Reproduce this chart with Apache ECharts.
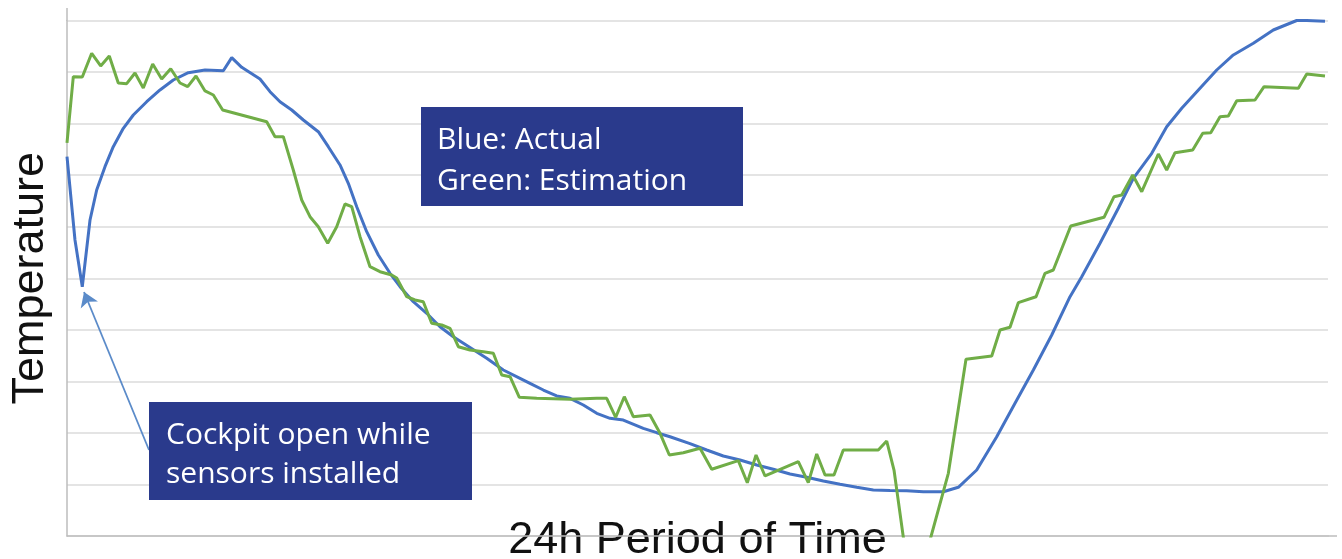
<!DOCTYPE html>
<html>
<head>
<meta charset="utf-8">
<script src="https://cdn.jsdelivr.net/npm/echarts@6/dist/echarts.min.js"></script>
<style>
html,body{margin:0;padding:0;background:#fff;}
#chart{width:1342px;height:559px;}
</style>
</head>
<body>
<div id="chart"></div>
<script>
// Time in hours (0..24), temperature in relative units (0..10, unlabeled)
const blueTime = [0,0.152,0.291,0.438,0.565,0.723,0.881,1.072,1.262,1.517,1.770,2.023,2.309,2.627,2.975,3.135,3.325,3.673,3.864,4.054,4.277,4.498,4.783,4.973,5.196,5.354,5.514,5.704,5.925,6.148,6.338,6.591,6.846,7.099,7.352,7.670,7.988,8.304,8.622,8.812,9.066,9.320,9.574,9.827,10.082,10.335,10.588,10.969,11.224,11.477,11.857,12.175,12.491,12.809,13.127,13.443,13.761,14.079,14.395,14.713,15.031,15.346,15.664,15.982,16.298,16.679,16.964,17.314,17.695,18.043,18.392,18.742,19.090,19.313,19.661,20.009,20.295,20.645,20.930,21.216,21.564,21.882,22.198,22.579,22.959,23.405,23.595,23.943];
const blueTemp = [7.358,5.742,4.836,6.130,6.712,7.164,7.552,7.909,8.167,8.425,8.652,8.846,8.988,9.040,9.026,9.279,9.092,8.865,8.619,8.425,8.264,8.070,7.843,7.552,7.197,6.842,6.388,5.903,5.451,5.096,4.836,4.545,4.320,4.060,3.866,3.657,3.447,3.220,3.059,2.962,2.832,2.716,2.671,2.541,2.380,2.283,2.250,2.089,2.004,1.926,1.791,1.668,1.552,1.474,1.377,1.294,1.203,1.139,1.067,1.003,0.945,0.892,0.883,0.879,0.857,0.859,0.945,1.280,1.926,2.574,3.220,3.899,4.642,5.030,5.678,6.357,6.939,7.424,7.940,8.297,8.685,9.040,9.331,9.558,9.816,10.0,10.0,9.985];
const greenTime = [0,0.120,0.291,0.470,0.641,0.805,0.976,1.136,1.294,1.452,1.631,1.802,1.974,2.151,2.297,2.455,2.627,2.785,2.963,3.801,3.959,4.117,4.307,4.467,4.625,4.783,4.962,5.133,5.291,5.419,5.577,5.767,5.957,6.180,6.275,6.466,6.623,6.781,6.941,7.132,7.290,7.448,7.670,7.924,8.114,8.274,8.432,8.609,8.940,9.574,10.082,10.272,10.443,10.607,10.778,11.096,11.287,11.464,11.730,12.048,12.270,12.777,12.948,13.114,13.285,13.919,14.109,14.269,14.427,14.598,14.775,15.441,15.601,15.740,16.083,16.254,16.774,17.110,17.600,17.758,17.948,18.106,18.443,18.614,18.772,19.104,19.737,19.928,20.074,20.283,20.455,20.771,20.930,21.089,21.425,21.616,21.768,21.945,22.103,22.263,22.611,22.783,23.436,23.595,23.943];
const greenTemp = [7.624,8.910,8.904,9.364,9.118,9.312,8.788,8.774,8.982,8.691,9.156,8.865,9.065,8.788,8.716,8.924,8.633,8.555,8.264,8.037,7.746,7.746,7.100,6.518,6.194,6.000,5.678,6.000,6.440,6.388,5.806,5.224,5.127,5.063,5.005,4.642,4.578,4.545,4.126,4.093,4.029,3.672,3.608,3.575,3.544,3.123,3.090,2.691,2.671,2.652,2.671,2.671,2.303,2.702,2.314,2.347,1.992,1.571,1.616,1.701,1.294,1.461,1.034,1.571,1.164,1.441,1.034,1.591,1.183,1.183,1.668,1.668,1.843,1.280,-1.242,-0.718,1.216,3.428,3.492,3.996,4.049,4.526,4.642,5.096,5.160,6.014,6.182,6.582,6.615,7.003,6.679,7.410,7.100,7.436,7.488,7.812,7.824,8.134,8.148,8.444,8.458,8.716,8.685,8.962,8.924];

const seriesNames = ['Actual', 'Estimation'];
const xTitle = '24h Period of Time';
const yTitle = 'Temperature';
const legendLines = ['Blue: Actual', 'Green: Estimation'];
const noteLines = ['Cockpit open while', 'sensors installed'];
// annotation arrow (data coordinates: hours, temperature)
const arrowFrom = [1.561, 1.668];
const arrowTo = [0.324, 4.733];

const zip = (xs, ys) => xs.map((x, i) => [x, ys[i]]);

const chart = echarts.init(document.getElementById('chart'), null, {renderer: 'canvas'});

const boxFill = '#2a3a8c';
const boxFont = '30px "Open Sans", sans-serif';

chart.setOption({
  animation: false,
  backgroundColor: '#ffffff',
  grid: {left: 67, right: 14, top: 20.5, bottom: 23, containLabel: false, outerBoundsMode: 'none'},
  xAxis: {
    type: 'value', min: 0, max: 24,
    name: xTitle, nameLocation: 'middle', nameGap: -18,
    nameTextStyle: {fontFamily: 'Liberation Sans', fontSize: 45, color: '#111'},
    axisLine: {show: true, onZero: false, lineStyle: {color: '#bdbdbd', width: 1.5}},
    axisTick: {show: false}, axisLabel: {show: false}, splitLine: {show: false}
  },
  yAxis: {
    type: 'value', min: 0, max: 10, interval: 1,
    name: yTitle, nameLocation: 'middle', nameGap: 14, nameRotate: 90,
    nameTextStyle: {fontFamily: 'Liberation Sans', fontSize: 45, color: '#111'},
    axisLine: {show: true, lineStyle: {color: '#bdbdbd', width: 1.5}},
    axisTick: {show: false}, axisLabel: {show: false},
    splitLine: {show: true, lineStyle: {color: '#e4e4e4', width: 2}}
  },
  series: [
    {
      name: seriesNames[0], type: 'line', data: zip(blueTime, blueTemp),
      showSymbol: false, smooth: false, z: 2,
      lineStyle: {color: '#4472C4', width: 3}
    },
    {
      name: seriesNames[1], type: 'line', data: zip(greenTime, greenTemp),
      showSymbol: false, smooth: false, z: 3,
      lineStyle: {color: '#70AD47', width: 3},
      markLine: {
        silent: true, symbol: ['none', 'arrow'], symbolSize: 14,
        label: {show: false}, z: 5,
        lineStyle: {color: '#5b8bc9', width: 1.8, type: 'solid'},
        itemStyle: {color: '#5b8bc9'},
        emphasis: {disabled: true},
        data: [[{coord: arrowFrom}, {coord: arrowTo}]]
      }
    }
  ],
  graphic: [
    {type: 'line', shape: {x1: 67, y1: 8, x2: 67, y2: 21}, style: {stroke: '#bdbdbd', lineWidth: 1.5}, silent: true},
    {type: 'line', shape: {x1: 1327, y1: 536, x2: 1337, y2: 536}, style: {stroke: '#bdbdbd', lineWidth: 1.5}, silent: true},
    {type: 'rect', shape: {x: 421, y: 107, width: 322, height: 99}, style: {fill: boxFill}, z: 10},
    {type: 'text', x: 437, y: 140.2, style: {text: legendLines[0], font: boxFont, fill: '#ffffff', verticalAlign: 'middle'}, z: 11},
    {type: 'text', x: 437, y: 181.8, style: {text: legendLines[1], font: boxFont, fill: '#ffffff', verticalAlign: 'middle'}, z: 11},
    {type: 'rect', shape: {x: 149, y: 402, width: 323, height: 98}, style: {fill: boxFill}, z: 10},
    {type: 'text', x: 166, y: 435.8, style: {text: noteLines[0], font: boxFont, fill: '#ffffff', verticalAlign: 'middle'}, z: 11},
    {type: 'text', x: 166, y: 474.2, style: {text: noteLines[1], font: boxFont, fill: '#ffffff', verticalAlign: 'middle'}, z: 11}
  ]
});
</script>
</body>
</html>
